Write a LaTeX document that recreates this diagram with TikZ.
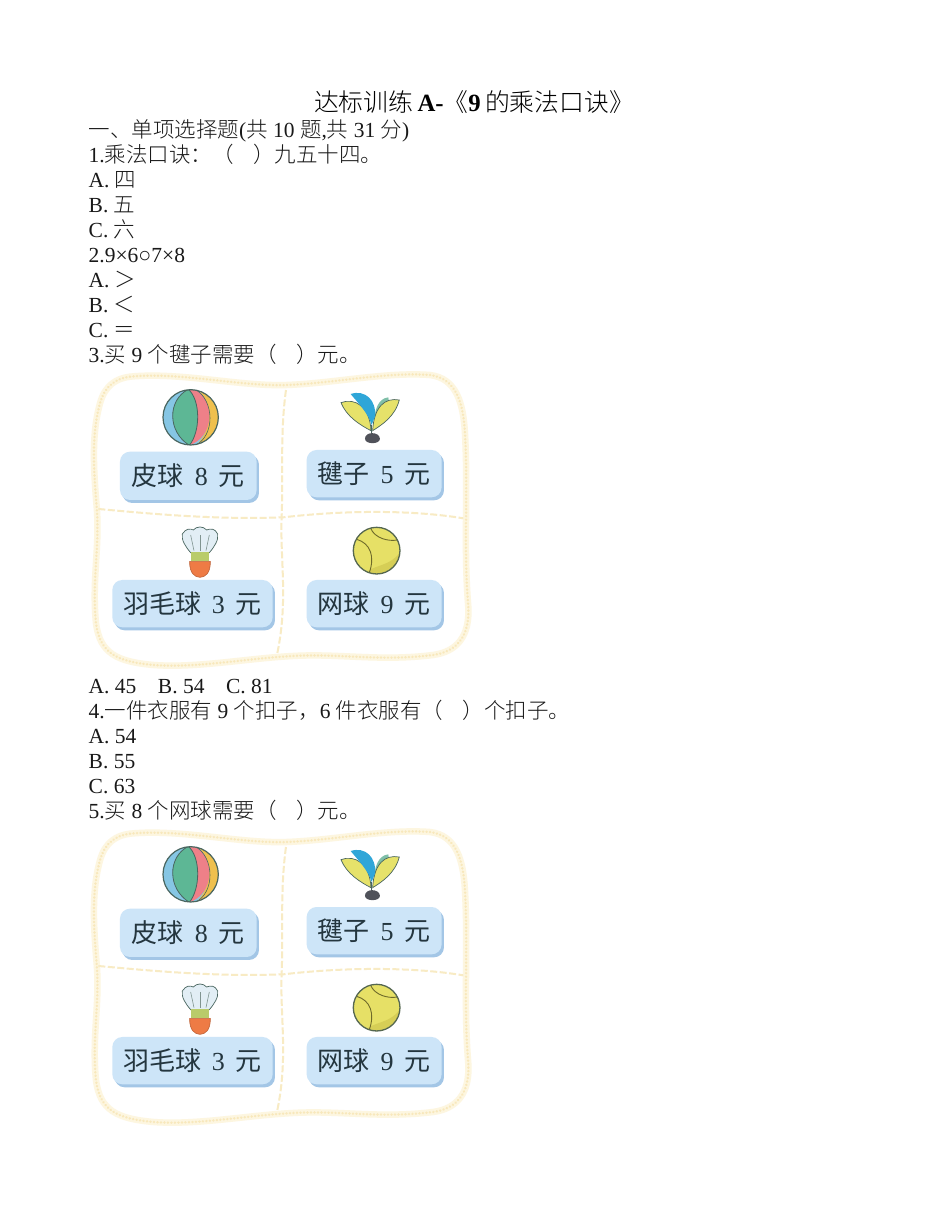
\documentclass[tikz,border=0pt]{standalone}
\usepackage{fontspec}
\setmainfont{Liberation Serif}
\newfontfamily\cjk{Noto Sans CJK SC Light}
\newfontfamily\cjktag{Noto Sans CJK SC}
\newcommand{\zh}[1]{{\cjk #1}}
\definecolor{framecol}{HTML}{FDF6E0}
\definecolor{framedot}{HTML}{F8E8BC}
\definecolor{dashcol}{HTML}{F8EBC4}
\definecolor{tagfill}{HTML}{CDE5F8}
\definecolor{tagshade}{HTML}{A3C6E6}
\definecolor{taginkc}{HTML}{24363F}
\definecolor{outl}{HTML}{4A6660}
\definecolor{ballblue}{HTML}{86C6E4}
\definecolor{ballgreen}{HTML}{5DB795}
\definecolor{ballpink}{HTML}{EE8088}
\definecolor{ballyellow}{HTML}{EFC04E}
\definecolor{leafcol}{HTML}{E6E26A}
\definecolor{featherblue}{HTML}{2FA6D8}
\definecolor{featherteal}{HTML}{7FBFA8}
\definecolor{basecol}{HTML}{50525A}
\definecolor{tennis}{HTML}{E6E066}
\definecolor{tennisdark}{HTML}{D6CE56}
\definecolor{tennisline}{HTML}{6E6A2A}
\definecolor{cork}{HTML}{EE7B45}
\definecolor{shuttleband}{HTML}{B9CC6A}
\definecolor{feather}{HTML}{E2EEF5}
\tikzset{
  line/.style={anchor=base west,inner sep=0pt,font=\fontsize{21.5}{25}\selectfont,text=black!90},
  tagbox/.style={fill=tagfill,rounded corners=10pt},
  tagshadow/.style={fill=tagshade,rounded corners=10pt},
  tagtext/.style={font=\fontsize{26}{30}\selectfont\cjktag,text=taginkc,inner sep=0pt},
  divider/.style={draw=dashcol,line width=2pt,dash pattern=on 7pt off 2.5pt},
}
\newcommand{\framepath}{
    (150,50) .. controls (300,35) and (480,80) .. (620,75)
    .. controls (760,70) and (920,35) .. (1050,45)
    .. controls (1130,55) and (1150,130) .. (1155,220)
    .. controls (1165,400) and (1150,560) .. (1165,740)
    .. controls (1170,830) and (1130,875) .. (1060,885)
    .. controls (900,905) and (780,880) .. (640,888)
    .. controls (500,895) and (350,925) .. (220,915)
    .. controls (110,905) and (60,880) .. (48,790)
    .. controls (35,660) and (60,560) .. (50,440)
    .. controls (40,320) and (35,220) .. (60,130)
    .. controls (75,75) and (110,55) .. (150,50) -- cycle}
\newcommand{\pricetag}[6]{%
  \path[tagshadow] (#1+7,#2+9) rectangle (#3+7,#4+9);
  \path[tagbox] (#1,#2) rectangle (#3,#4);
  \node[tagtext] (#5) at ({(#1+#3)/2},{(#2+#4)/2}) {#6};
}
\newcommand{\tagsp}{\hspace{0.42em}}
\newcommand{\card}[2]{%
\begin{scope}[shift={(80,#2)},x=0.3333pt,y=-0.3333pt]
  % frame
  \draw[framecol,line width=6.5pt,line join=round] \framepath;
  \draw[framedot,line width=2.6pt,line cap=round,dash pattern=on 0.1pt off 3.4pt] \framepath;
  % dividers
  \draw[divider] (618,90) .. controls (600,220) and (610,350) .. (605,470)
     .. controls (600,600) and (625,720) .. (592,880);
  \draw[divider] (55,447) .. controls (200,460) and (400,480) .. (610,472)
     .. controls (800,450) and (1000,450) .. (1150,475);
  % beach ball
  \begin{scope}
    \clip (332,172) circle (83);
    \fill[ballblue] (240,80) rectangle (430,265);
    \fill[ballyellow] (345,85) .. controls (400,115) and (400,215) .. (345,258)
       -- (425,258) -- (425,85) -- cycle;
    \fill[ballpink] (325,88) .. controls (362,120) and (362,215) .. (328,256)
       .. controls (405,230) and (405,120) .. (345,88) -- cycle;
    \fill[ballgreen] (325,88) .. controls (262,120) and (262,215) .. (328,256)
       .. controls (362,215) and (362,120) .. (325,88) -- cycle;
    \draw[outl,line width=0.8pt] (325,88) .. controls (262,120) and (262,215) .. (328,256);
    \draw[outl,line width=0.8pt] (325,88) .. controls (362,120) and (362,215) .. (328,256);
    \draw[outl,line width=0.6pt] (345,88) .. controls (405,120) and (405,230) .. (345,256);
  \end{scope}
  \draw[outl,line width=1.2pt] (332,172) circle (83);
  % shuttlecock with leaves
  \draw[outl,line width=0.9pt] (875,225) -- (875,195);
  \fill[featherteal] (882,195) .. controls (882,150) and (895,115) .. (925,112)
     .. controls (935,145) and (905,170) .. (882,195) -- cycle;
  \fill[fill=leafcol,draw=outl,line width=0.7pt] (873,212) .. controls (840,195) and (800,170) .. (783,128)
     .. controls (825,112) and (870,140) .. (873,212) -- cycle;
  \fill[fill=leafcol,draw=outl,line width=0.7pt] (878,212) .. controls (905,195) and (945,170) .. (958,120)
     .. controls (915,112) and (882,140) .. (878,212) -- cycle;
  \fill[featherblue] (875,195) .. controls (865,160) and (835,130) .. (812,102)
     .. controls (855,88) and (890,120) .. (885,170) -- cycle;
  \fill[basecol] (855,236) .. controls (855,214) and (898,214) .. (900,236)
     .. controls (900,254) and (855,254) .. (855,236) -- cycle;
  % tags
  \pricetag{120}{275}{530}{420}{#1a}{皮球\tagsp{\rmfamily 8}\tagsp{}元}
  \pricetag{680}{270}{1085}{412}{#1b}{毽子\tagsp{\rmfamily 5}\tagsp{}元}
  \pricetag{97}{660}{578}{802}{#1c}{羽毛球\tagsp{\rmfamily 3}\tagsp{}元}
  \pricetag{680}{660}{1085}{802}{#1d}{网球\tagsp{\rmfamily 9}\tagsp{}元}
  % badminton shuttle
  \fill[fill=feather,draw=outl,line width=0.7pt]
    (332,578) .. controls (318,562) and (303,540) .. (307,522)
    .. controls (318,505) and (330,505) .. (340,510)
    .. controls (350,498) and (370,498) .. (380,510)
    .. controls (392,505) and (405,505) .. (413,522)
    .. controls (417,540) and (402,562) .. (388,578) -- cycle;
  \foreach \xa/\xb in {342/332,360/360,378/388}
    \draw[outl!70,line width=0.6pt] (\xa,572) -- (\xb,525);
  \fill[shuttleband] (332,576) rectangle (388,602);
  \fill[fill=cork,draw=cork!80!black,line width=0.6pt]
    (329,604) -- (391,604) .. controls (392,640) and (375,652) .. (360,652)
    .. controls (345,652) and (328,640) .. (329,604) -- cycle;
  % tennis ball
  \fill[tennis] (890,572) circle (70);
  \begin{scope}
    \clip (890,572) circle (70);
    \fill[tennisdark] (850,645) .. controls (880,610) and (930,625) .. (965,570)
       -- (965,650) -- cycle;
  \end{scope}
  \draw[tennisline,line width=0.9pt]
    (830,538) .. controls (872,550) and (885,590) .. (868,638);
  \draw[tennisline,line width=0.9pt]
    (872,505) .. controls (885,535) and (925,545) .. (952,540);
  \draw[outl!70!tennisline,line width=1.3pt] (890,572) circle (70);
\end{scope}}
\begin{document}
\begin{tikzpicture}[x=1pt,y=-1pt]
\useasboundingbox (0,0) rectangle (950,1230);
\fill[white] (0,0) rectangle (950,1230);
\node[anchor=base,inner sep=0pt,font=\fontsize{24.8}{28}\selectfont] (title) at (474,112)
  {\zh{达标训练}\,\textbf{A-}\zh{《}\textbf{9}\,\zh{的乘法口诀》}};
\node[line] (sec) at (88.5,137.5) {\zh{一、单项选择题}(\zh{共} 10 \zh{题},\zh{共} 31 \zh{分})};
\node[line] (q1) at (88.5,162.5) {1.\zh{乘法口诀：（\hspace{0.9em}）九五十四。}};
\node[line] (q1a) at (88.5,187.5) {A. \zh{四}};
\node[line] (q1b) at (88.5,212.5) {B. \zh{五}};
\node[line] (q1c) at (88.5,237.5) {C. \zh{六}};
\node[line] (q2) at (88.5,262.5) {2.9×6○7×8};
\node[line] (q2a) at (88.5,287.5) {A. \zh{＞}};
\node[line] (q2b) at (88.5,312.5) {B. \zh{＜}};
\node[line] (q2c) at (88.5,337.5) {C. \zh{＝}};
\node[line] (q3) at (88.5,362.5) {3.\zh{买} 9 \zh{个毽子需要（\hspace{0.9em}）元。}};
\card{ca}{360}
\node[line] (q3o) at (88.5,693.5) {A. 45\hspace{1em}B. 54\hspace{1em}C. 81};
\node[line] (q4) at (88.5,718) {4.\zh{一件衣服有} 9 \zh{个扣子，}6 \zh{件衣服有（\hspace{0.9em}）个扣子。}};
\node[line] (q4a) at (88.5,743) {A. 54};
\node[line] (q4b) at (88.5,768) {B. 55};
\node[line] (q4c) at (88.5,793) {C. 63};
\node[line] (q5) at (88.5,818) {5.\zh{买} 8 \zh{个网球需要（\hspace{0.9em}）元。}};
\card{cb}{817}
\end{tikzpicture}
\end{document}
